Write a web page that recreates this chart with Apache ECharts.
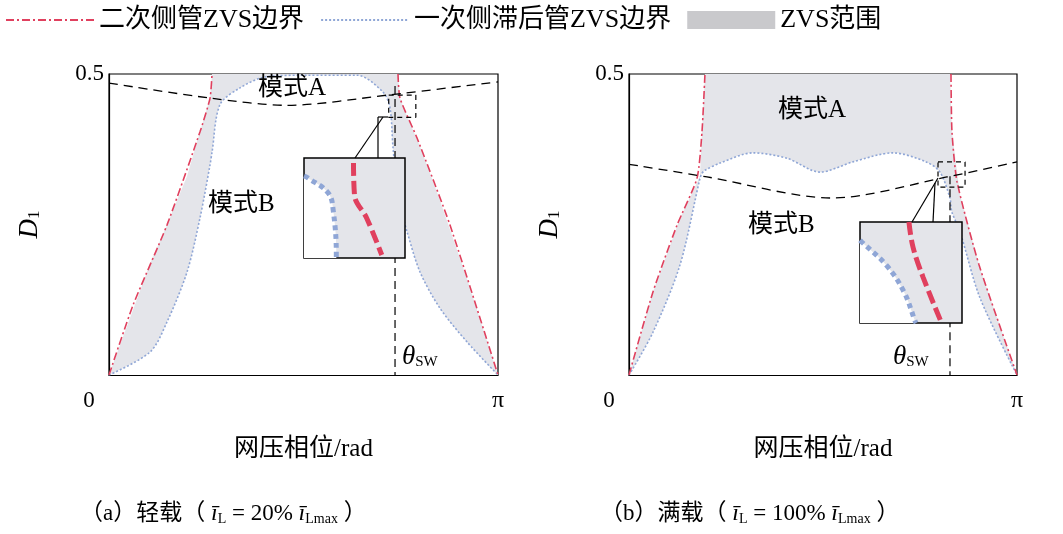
<!DOCTYPE html>
<html><head><meta charset="utf-8">
<script src="https://cdn.jsdelivr.net/npm/echarts@6/dist/echarts.min.js"></script>
<style>html,body{margin:0;padding:0;background:#fff}#c{width:1063px;height:534px}</style>
</head><body><div id="c"></div>
<script>
const PI = Math.PI;
// ---------- panel (a) light load ----------
const aRedL = [[0,0],[0.194,0.116],[0.468,0.249],[0.735,0.404],[0.816,0.460],[0.832,0.5]];
const aRedR = [[2.334,0.5],[2.35,0.46],[2.487,0.394],[2.754,0.249],[PI,0]];
const aBlue = [[0,0],[0.331,0.038],[0.468,0.088],[0.630,0.171],[0.735,0.261],[0.816,0.349],[0.832,0.37],[0.896,0.449],[1.058,0.477],[1.26,0.495],[1.6,0.498],[2.003,0.498],[2.213,0.470],[2.269,0.444],[2.294,0.377],[2.334,0.294],[2.35,0.28],[2.407,0.238],[2.512,0.171],[2.673,0.111],[2.891,0.055],[PI,0]];
const aUpper = [0,0.185,0.249,0.33,0.404,0.46,0.5,0.5,0.5,0.5,0.5,0.5,0.5,0.5,0.5,0.5,0.46,0.43,0.38,0.29,0.16,0];
const aMode = [[0,0.485],[0.816,0.460],[1.44,0.448],[2.25,0.465],[PI,0.487]];
const aTheta = [[2.31,0.48],[2.31,0]];
const aBox = [[2.259,0.465],[2.478,0.465],[2.478,0.428],[2.259,0.428],[2.259,0.465]];
const aInsetBlue = [[0,0.82],[0.04,0.80],[0.24,0.65],[0.29,0.47],[0.32,0.02],[0.32,0]];
const aInsetRed = [[0.49,0.95],[0.50,0.63],[0.62,0.40],[0.77,0.03]];
// ---------- panel (b) full load ----------
const bRedL = [[0,0],[0.194,0.138],[0.389,0.249],[0.551,0.327],[0.591,0.404],[0.615,0.5]];
const bRedR = [[2.607,0.5],[2.615,0.404],[2.656,0.321],[2.834,0.183],[PI,0]];
const bBlue = [[0,0],[0.194,0.071],[0.413,0.183],[0.575,0.327],[0.591,0.335],[0.615,0.34],[0.737,0.352],[1.004,0.369],[1.279,0.360],[1.547,0.337],[1.813,0.354],[2.138,0.369],[2.405,0.354],[2.518,0.337],[2.599,0.294],[2.607,0.28],[2.615,0.27],[2.680,0.238],[2.842,0.128],[PI,0]];
const bUpper = [0,0.138,0.26,0.33,0.404,0.5,0.5,0.5,0.5,0.5,0.5,0.5,0.5,0.5,0.5,0.5,0.404,0.30,0.177,0];
const bMode = [[0,0.350],[0.632,0.329],[1.643,0.294],[2.575,0.329],[PI,0.354]];
const bTheta = [[2.599,0.33],[2.599,0]];
const bBox = [[2.502,0.354],[2.721,0.354],[2.721,0.312],[2.502,0.312],[2.502,0.354]];
const bInsetBlue = [[0,0.82],[0.02,0.80],[0.26,0.57],[0.43,0.31],[0.54,0.02],[0.55,0]];
const bInsetRed = [[0.48,1.0],[0.52,0.75],[0.62,0.45],[0.80,0.0]];

const RED='#e0405e', BLUE='#8fa6d6', GREY='#e4e5ea';
const FONT="'Liberation Serif','Noto Sans CJK SC',serif";
const chart = echarts.init(document.getElementById('c'));

function mainX(i){return {gridIndex:i,type:'value',min:0,max:PI,
  axisLine:{onZero:false,lineStyle:{color:'#000',width:1.2}},axisTick:{show:false},splitLine:{show:false},
  axisLabel:{customValues:[0,PI],margin:14,fontFamily:FONT,fontSize:23,color:'#000',
    formatter:v=>v===0?'{z|0}':'{p|π}',rich:{z:{fontSize:23,fontFamily:FONT,padding:[0,40,0,0]},p:{fontSize:24,fontFamily:FONT}}},
  name:'网压相位/rad',nameLocation:'middle',nameGap:62,nameTextStyle:{fontFamily:FONT,fontSize:25,color:'#000'}};}
function mainY(i){return {gridIndex:i,type:'value',min:0,max:0.5,
  axisLine:{show:true,lineStyle:{color:'#000',width:1.2}},axisTick:{show:false},splitLine:{show:false},
  axisLabel:{customValues:[0.5],margin:5,fontFamily:FONT,fontSize:23,color:'#000',verticalAlign:'middle'},
  name:'{d|D}{s|1}',nameLocation:'middle',nameGap:66,nameRotate:90,
  nameTextStyle:{rich:{d:{fontFamily:FONT,fontStyle:'italic',fontSize:27,color:'#000'},s:{fontFamily:FONT,fontSize:17,color:'#000',padding:[10,0,0,0]}}}};}
function insetAxis(i){return {gridIndex:i,type:'value',min:0,max:1,show:false};}

function panel(k,redL,redR,blue,upper,mode,theta,box){
  const xs = blue.map(p=>p[0]);
  return [
    {name:'ZVS范围',type:'line',xAxisIndex:k,yAxisIndex:k,data:xs.map((x,i)=>[x,upper[i]]),symbol:'none',lineStyle:{opacity:0},areaStyle:{color:GREY,opacity:1,origin:'start'},itemStyle:{color:GREY},z:1},
    {type:'line',xAxisIndex:k,yAxisIndex:k,data:blue,symbol:'none',smooth:0.3,lineStyle:{opacity:0},areaStyle:{color:'#fff',opacity:1,origin:'start'},z:2,silent:true},
    {name:'一次侧滞后管ZVS边界',type:'line',xAxisIndex:k,yAxisIndex:k,data:blue,symbol:'none',smooth:0.3,lineStyle:{color:BLUE,width:1.6,type:[2,2]},itemStyle:{color:BLUE},z:3},
    {name:'二次侧管ZVS边界',type:'line',xAxisIndex:k,yAxisIndex:k,data:redL,symbol:'none',smooth:0.2,lineStyle:{color:RED,width:1.6,type:[8,3,2,3]},itemStyle:{color:RED},z:4},
    {name:'二次侧管ZVS边界',type:'line',xAxisIndex:k,yAxisIndex:k,data:redR,symbol:'none',smooth:0.2,lineStyle:{color:RED,width:1.6,type:[8,3,2,3]},itemStyle:{color:RED},z:4},
    {type:'line',xAxisIndex:k,yAxisIndex:k,data:mode,symbol:'none',smooth:0.3,lineStyle:{color:'#000',width:1.3,type:[9,6]},z:5},
    {type:'line',xAxisIndex:k,yAxisIndex:k,data:theta,symbol:'none',lineStyle:{color:'#000',width:1.2,type:[8,5]},z:5},
    {type:'line',xAxisIndex:k,yAxisIndex:k,data:box,symbol:'none',lineStyle:{color:'#000',width:1.2,type:[5,4]},z:6}
  ];
}
function inset(k,blue,red){
  return [
    {type:'line',xAxisIndex:k,yAxisIndex:k,data:blue,symbol:'none',smooth:0.4,lineStyle:{color:BLUE,width:5,type:[5,4]},areaStyle:{color:'#fff',opacity:1,origin:'start'},z:12},
    {type:'line',xAxisIndex:k,yAxisIndex:k,data:red,symbol:'none',smooth:0.4,lineStyle:{color:RED,width:5,type:[13,5]},z:13}
  ];
}
const theta = (x,y)=>({type:'text',left:x,top:y,z:20,style:{text:'{t|θ}{s|SW}',rich:{t:{fontFamily:FONT,fontStyle:'italic',fontSize:27,fill:'#000'},s:{fontFamily:FONT,fontSize:15,fill:'#000',padding:[12,0,0,0]}}}});
const txt = (s,x,y)=>({type:'text',left:x,top:y,z:20,style:{text:s,font:'25px '+FONT,fill:'#000'}});
const ln = (x1,y1,x2,y2)=>({type:'line',z:20,shape:{x1,y1,x2,y2},style:{stroke:'#000',lineWidth:1.2}});
const cap = (x,lab,pct)=>({type:'text',left:x,top:502,z:20,style:{text:'（'+lab+'）'+(lab==='a'?'轻载':'满载')+'（ {i|ī}{s|L} = '+pct+'% {i|ī}{s|Lmax} ）',
  font:'23px '+FONT,fill:'#000',rich:{i:{fontFamily:FONT,fontStyle:'italic',fontSize:24,fill:'#000'},s:{fontFamily:FONT,fontSize:14,fill:'#000',padding:[10,0,0,0]}}}});

chart.setOption({
  animation:false,
  legend:{top:2,left:0,itemGap:16,itemWidth:88,itemHeight:18,itemStyle:{opacity:0},textStyle:{fontFamily:FONT,fontSize:26,color:'#000'},
    data:[{name:'二次侧管ZVS边界'},{name:'一次侧滞后管ZVS边界'},{name:'ZVS范围',icon:'rect',itemStyle:{color:'#c9c9cc',opacity:1}}]},
  grid:[
    {left:109,top:74,width:389,height:301,show:true,borderColor:'#000',borderWidth:1.2,backgroundColor:'#fff'},
    {left:629,top:74,width:388,height:301,show:true,borderColor:'#000',borderWidth:1.2,backgroundColor:'#fff'},
    {left:304,top:158,width:101,height:100,show:true,borderColor:'#000',borderWidth:1.5,backgroundColor:GREY,z:10},
    {left:860,top:222,width:102,height:101,show:true,borderColor:'#000',borderWidth:1.5,backgroundColor:GREY,z:10}
  ],
  xAxis:[mainX(0),mainX(1),insetAxis(2),insetAxis(3)],
  yAxis:[mainY(0),mainY(1),insetAxis(2),insetAxis(3)],
  series:[...panel(0,aRedL,aRedR,aBlue,aUpper,aMode,aTheta,aBox),...panel(1,bRedL,bRedR,bBlue,bUpper,bMode,bTheta,bBox),
    ...inset(2,aInsetBlue,aInsetRed),...inset(3,bInsetBlue,bInsetRed)],
  graphic:[
    txt('模式A',258,76),txt('模式B',208,192),txt('模式A',778,98),txt('模式B',748,213),
    theta(402,343),theta(893,343),
    ln(383,117,355,158),ln(378,117,378,158),ln(378,117,388,117),
    ln(912,222,938,178),ln(933,222,935,183),
    cap(80,'a','20'),cap(600,'b','100')
  ]
});
</script></body></html>
